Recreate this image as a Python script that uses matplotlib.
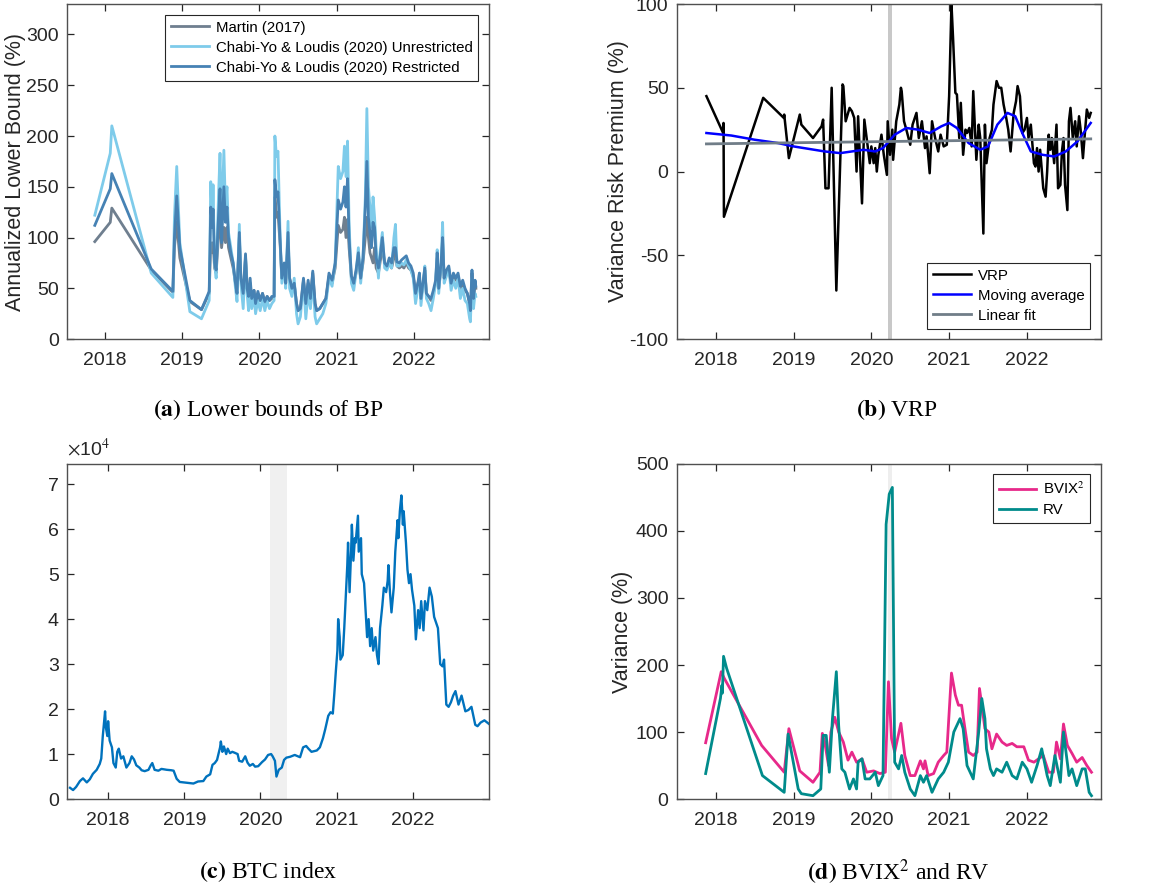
#!/usr/bin/env python3
"""Four-panel figure: bound estimates, VRP, BTC index and BVIX^2 vs RV."""

import matplotlib

matplotlib.use("Agg")
import matplotlib.pyplot as plt
from matplotlib.ticker import FuncFormatter

plt.rcParams["font.family"] = ["Liberation Sans", "DejaVu Sans"]
plt.rcParams["mathtext.fontset"] = "stix"
plt.rcParams["axes.unicode_minus"] = False

YEAR_TICKS = [2018, 2019, 2020, 2021, 2022]

# ---- (a) lower bounds of BP (%) ----
lb_dates = [
    2017.87, 2018.07, 2018.09, 2018.60, 2018.88, 2018.90, 2018.93, 2018.97, 2019.10, 2019.25,
    2019.35, 2019.37, 2019.39, 2019.40, 2019.42, 2019.44, 2019.47, 2019.49, 2019.51, 2019.54,
    2019.56, 2019.58, 2019.60, 2019.63, 2019.66, 2019.69, 2019.71, 2019.74, 2019.76, 2019.79,
    2019.82, 2019.84, 2019.86, 2019.88, 2019.90, 2019.93, 2019.95, 2019.98, 2020.01, 2020.04,
    2020.07, 2020.10, 2020.13, 2020.16, 2020.19, 2020.20, 2020.22, 2020.24, 2020.27, 2020.29,
    2020.32, 2020.34, 2020.37, 2020.39, 2020.42, 2020.45, 2020.48, 2020.50, 2020.53, 2020.57,
    2020.60, 2020.63, 2020.66, 2020.69, 2020.72, 2020.74, 2020.78, 2020.82, 2020.86, 2020.90,
    2020.94, 2020.98, 2021.02, 2021.05, 2021.08, 2021.10, 2021.12, 2021.14, 2021.16, 2021.19,
    2021.22, 2021.25, 2021.28, 2021.31, 2021.34, 2021.37, 2021.39, 2021.41, 2021.43, 2021.45,
    2021.47, 2021.49, 2021.51, 2021.54, 2021.56, 2021.59, 2021.62, 2021.65, 2021.68, 2021.71,
    2021.74, 2021.76, 2021.78, 2021.81, 2021.84, 2021.87, 2021.90, 2021.93, 2021.96, 2021.99,
    2022.02, 2022.05, 2022.07, 2022.09, 2022.12, 2022.14, 2022.16, 2022.19, 2022.22, 2022.25,
    2022.28, 2022.30, 2022.32, 2022.35, 2022.37, 2022.39, 2022.42, 2022.45, 2022.48, 2022.51,
    2022.54, 2022.57, 2022.60, 2022.63, 2022.66, 2022.69, 2022.72, 2022.73, 2022.75, 2022.77,
    2022.79, 2022.80,
]
lb_martin = [
    96, 115, 129, 68, 46, 90, 115, 80, 37, 29,
    45, 95, 85, 95, 70, 65, 100, 125, 90, 110,
    95, 110, 90, 80, 70, 55, 45, 100, 60, 45,
    80, 55, 40, 55, 40, 48, 35, 45, 38, 45,
    35, 42, 38, 40, 42, 140, 120, 125, 90, 60,
    70, 55, 95, 60, 50, 55, 35, 28, 30, 58,
    35, 55, 40, 65, 35, 28, 30, 35, 40, 62,
    55, 70, 112, 105, 108, 120, 100, 118, 90, 60,
    55, 65, 80, 60, 75, 100, 120, 100, 85, 80,
    75, 90, 70, 65, 75, 90, 75, 70, 75, 70,
    80, 85, 72, 70, 72, 70, 75, 70, 68, 62,
    45, 55, 60, 40, 55, 68, 45, 42, 38, 45,
    55, 80, 50, 70, 95, 60, 65, 68, 55, 62,
    58, 62, 50, 55, 48, 45, 35, 28, 65, 40,
    55, 50,
]
lb_unrestricted = [
    122, 183, 210, 65, 41, 120, 170, 95, 27, 20,
    38, 155, 115, 152, 75, 60, 140, 183, 110, 186,
    130, 150, 105, 90, 75, 50, 37, 113, 55, 30,
    82, 45, 28, 55, 30, 42, 25, 38, 28, 40,
    28, 38, 30, 35, 38, 200, 180, 185, 95, 55,
    72, 50, 116, 50, 42, 60, 25, 15, 22, 57,
    20, 45, 30, 60, 22, 15, 20, 25, 35, 60,
    52, 75, 170, 158, 165, 190, 160, 195, 115, 55,
    48, 65, 90, 55, 80, 140, 227, 150, 130, 110,
    140, 120, 90, 60, 85, 105, 70, 68, 75, 70,
    100, 113, 72, 72, 75, 73, 78, 72, 68, 60,
    35, 50, 65, 33, 55, 72, 40, 35, 28, 40,
    55, 88, 45, 75, 115, 55, 62, 70, 48, 58,
    50, 60, 40, 50, 38, 35, 20, 17, 60, 30,
    45, 42,
]
lb_restricted = [
    112, 148, 163, 69, 47, 100, 141, 90, 38, 29,
    47, 130, 110, 128, 75, 68, 120, 148, 95, 150,
    115, 130, 100, 85, 75, 55, 45, 105, 60, 45,
    84, 50, 42, 60, 40, 48, 35, 47, 38, 45,
    37, 42, 38, 42, 42, 157, 140, 145, 95, 60,
    75, 55, 105, 60, 50, 55, 35, 28, 30, 60,
    35, 58, 40, 67, 35, 28, 30, 35, 40, 65,
    58, 75, 137, 128, 135, 150, 130, 158, 100, 62,
    55, 68, 85, 60, 80, 130, 175, 120, 105, 90,
    115, 110, 80, 70, 80, 100, 75, 72, 80, 75,
    90, 90, 76, 75, 78, 80, 82, 75, 72, 65,
    45, 55, 65, 40, 58, 70, 45, 42, 40, 48,
    58, 85, 50, 75, 100, 60, 68, 72, 55, 65,
    60, 65, 52, 58, 50, 45, 35, 28, 68, 40,
    58, 52,
]

# ---- (b) variance risk premium (%) ----
vrp_dates = [
    2017.88, 2018.095, 2018.10, 2018.105, 2018.61, 2018.875, 2018.88, 2018.94, 2019.08, 2019.10,
    2019.25, 2019.36, 2019.38, 2019.41, 2019.45, 2019.49, 2019.55, 2019.63, 2019.64, 2019.67,
    2019.72, 2019.75, 2019.78, 2019.81, 2019.83, 2019.88, 2019.91, 2019.94, 2019.98, 2020.00,
    2020.03, 2020.05, 2020.07, 2020.09, 2020.13, 2020.16, 2020.20, 2020.21, 2020.24, 2020.27,
    2020.28, 2020.32, 2020.36, 2020.38, 2020.39, 2020.42, 2020.45, 2020.50, 2020.53, 2020.58,
    2020.61, 2020.65, 2020.69, 2020.71, 2020.75, 2020.78, 2020.82, 2020.86, 2020.89, 2020.93,
    2020.97, 2021.00, 2021.03, 2021.05, 2021.08, 2021.10, 2021.13, 2021.15, 2021.18, 2021.21,
    2021.23, 2021.26, 2021.29, 2021.31, 2021.35, 2021.38, 2021.40, 2021.44, 2021.46, 2021.48,
    2021.52, 2021.55, 2021.57, 2021.61, 2021.64, 2021.67, 2021.70, 2021.73, 2021.76, 2021.79,
    2021.83, 2021.86, 2021.88, 2021.91, 2021.94, 2021.97, 2022.00, 2022.02, 2022.05, 2022.09,
    2022.11, 2022.13, 2022.15, 2022.17, 2022.21, 2022.24, 2022.26, 2022.28, 2022.30, 2022.32,
    2022.35, 2022.38, 2022.40, 2022.43, 2022.45, 2022.47, 2022.49, 2022.52, 2022.54, 2022.56,
    2022.59, 2022.62, 2022.64, 2022.67, 2022.69, 2022.72, 2022.74, 2022.77, 2022.80, 2022.82,
]
vrp_values = [
    45, 23, 29, -27, 44, 32, 34, 8, 34, 28,
    20, 27, 31, -10, -10, 50, -71, 52, 51, 30,
    38, 36, 32, 0, 33, -19, 31, 20, 5, 15,
    5, 14, 0, 10, 22, 10, -2, 30, 10, 25,
    7, 30, 40, 50, 48, 30, 25, 16, 28, 35,
    20, 30, 14, 21, -1, 30, 20, 12, 22, 15,
    16, 45, 100, 80, 47, 46, 20, 41, 10, 25,
    23, 26, 15, 48, 7, 28, 20, -37, 28, 5,
    20, 25, 40, 54, 50, 50, 40, 33, 25, 12,
    35, 42, 51, 45, 23, 25, 32, 20, 28, 5,
    3, 14, 0, 13, -10, -15, 0, 22, 13, 20,
    5, 28, -10, -8, 12, 20, -8, -23, 30, 38,
    20, 30, 15, 33, 25, 8, 20, 37, 32, 35,
]
ma_dates = [
    2017.88, 2018.2, 2018.5, 2018.8, 2019.0, 2019.2, 2019.4, 2019.6, 2019.75, 2019.9,
    2020.05, 2020.15, 2020.3, 2020.45, 2020.6, 2020.75, 2020.9, 2021.0, 2021.1, 2021.25,
    2021.4, 2021.5, 2021.62, 2021.75, 2021.85, 2021.95, 2022.05, 2022.2, 2022.35, 2022.5,
    2022.65, 2022.82,
]
ma_values = [
    23, 21.5, 19, 17, 15, 13.5, 12, 11, 12, 13,
    12, 14, 22, 26, 25, 23, 27, 29, 26, 17,
    13, 15, 28, 35, 33, 22, 12, 10, 9, 12,
    18, 29,
]
fit_dates = [2017.88, 2022.82]
fit_values = [16.5, 19.5]

# ---- (c) BTC index ----
btc_dates = [
    2017.50, 2017.54, 2017.58, 2017.63, 2017.67, 2017.72, 2017.76, 2017.80, 2017.85, 2017.89,
    2017.91, 2017.93, 2017.96, 2017.97, 2017.99, 2018.00, 2018.02, 2018.05, 2018.07, 2018.10,
    2018.12, 2018.14, 2018.17, 2018.20, 2018.24, 2018.28, 2018.31, 2018.34, 2018.37, 2018.41,
    2018.44, 2018.48, 2018.53, 2018.56, 2018.58, 2018.61, 2018.66, 2018.70, 2018.77, 2018.83,
    2018.86, 2018.90, 2018.94, 2018.99, 2019.05, 2019.12, 2019.18, 2019.25, 2019.29, 2019.34,
    2019.37, 2019.40, 2019.43, 2019.47, 2019.48, 2019.50, 2019.52, 2019.55, 2019.57, 2019.60,
    2019.63, 2019.66, 2019.70, 2019.72, 2019.76, 2019.80, 2019.83, 2019.86, 2019.90, 2019.93,
    2019.97, 2020.02, 2020.06, 2020.10, 2020.14, 2020.16, 2020.19, 2020.21, 2020.24, 2020.28,
    2020.31, 2020.34, 2020.39, 2020.45, 2020.52, 2020.56, 2020.60, 2020.63, 2020.67, 2020.74,
    2020.78, 2020.82, 2020.85, 2020.89, 2020.92, 2020.95, 2020.97, 2020.99, 2021.01, 2021.02,
    2021.04, 2021.05, 2021.08, 2021.10, 2021.12, 2021.14, 2021.15, 2021.17, 2021.19, 2021.20,
    2021.22, 2021.24, 2021.25, 2021.28, 2021.29, 2021.32, 2021.33, 2021.36, 2021.38, 2021.40,
    2021.42, 2021.44, 2021.46, 2021.48, 2021.51, 2021.53, 2021.55, 2021.57, 2021.60, 2021.62,
    2021.65, 2021.67, 2021.68, 2021.70, 2021.72, 2021.75, 2021.77, 2021.80, 2021.81, 2021.83,
    2021.85, 2021.87, 2021.88, 2021.91, 2021.93, 2021.95, 2021.97, 2021.99, 2022.02, 2022.04,
    2022.07, 2022.09, 2022.11, 2022.14, 2022.16, 2022.19, 2022.22, 2022.25, 2022.28, 2022.30,
    2022.33, 2022.36, 2022.39, 2022.41, 2022.44, 2022.47, 2022.50, 2022.53, 2022.56, 2022.60,
    2022.64, 2022.69, 2022.73, 2022.77, 2022.82, 2022.85, 2022.89, 2022.94, 2023.00,
]
btc_price = [
    2500, 2000, 2700, 4000, 4600, 3700, 4400, 5600, 6500, 7800,
    9000, 14000, 19500, 16000, 14000, 17300, 13000, 11500, 8000, 7000,
    10500, 11200, 9000, 9500, 7000, 8000, 9500, 8800, 7500, 7000,
    6400, 6200, 6500, 7500, 8000, 6500, 6300, 6700, 6500, 6400,
    6300, 4500, 3800, 3700, 3600, 3450, 3900, 4000, 5000, 5500,
    7600, 8000, 8700, 11500, 12800, 10500, 11700, 10000, 11200, 10200,
    10500, 10300, 10000, 8500, 8300, 9500, 8100, 7400, 7800, 7200,
    7300, 8200, 8800, 9800, 10000, 9500, 8500, 5000, 6500, 7000,
    8700, 9200, 9400, 9800, 9300, 11500, 11800, 11200, 10500, 10800,
    11500, 13500, 15500, 18500, 19300, 19000, 23500, 28500, 33000, 40000,
    36000, 31000, 32000, 38000, 45000, 52000, 57000, 46000, 55000, 61000,
    53000, 58000, 57000, 63000, 55000, 58000, 50000, 48000, 42000, 36000,
    40000, 34000, 38000, 33000, 36000, 32000, 30000, 38000, 43000, 47000,
    46000, 48500, 52000, 46000, 41500, 47000, 55000, 62000, 58000, 64000,
    67500, 61000, 64000, 57000, 51000, 48000, 50000, 46500, 43000, 35500,
    42000, 38000, 44000, 37500, 44000, 42000, 47000, 45000, 40500, 39500,
    38000, 30000, 29500, 31000, 21000, 20500, 21500, 23000, 24000, 21000,
    23000, 19500, 19800, 20500, 16500, 16200, 17000, 17500, 16700,
]

# ---- (d) BVIX^2 and realized variance (%) ----
bvix_dates = [
    2017.87, 2018.07, 2018.11, 2018.59, 2018.88, 2018.94, 2019.08, 2019.25, 2019.34, 2019.37,
    2019.40, 2019.45, 2019.48, 2019.53, 2019.58, 2019.64, 2019.70, 2019.75, 2019.81, 2019.88,
    2019.94, 2020.03, 2020.11, 2020.18, 2020.22, 2020.26, 2020.30, 2020.38, 2020.43, 2020.50,
    2020.56, 2020.63, 2020.67, 2020.69, 2020.73, 2020.80, 2020.86, 2020.93, 2020.97, 2021.03,
    2021.08, 2021.12, 2021.16, 2021.21, 2021.25, 2021.31, 2021.36, 2021.39, 2021.42, 2021.46,
    2021.51, 2021.55, 2021.61, 2021.68, 2021.74, 2021.81, 2021.87, 2021.96, 2022.02, 2022.09,
    2022.15, 2022.21, 2022.28, 2022.34, 2022.38, 2022.43, 2022.47, 2022.52, 2022.58, 2022.64,
    2022.71, 2022.77, 2022.83,
]
bvix_values = [
    84, 190, 180, 80, 40, 105, 42, 25, 40, 98,
    85, 50, 100, 122, 100, 85, 58, 70, 55, 60,
    40, 42, 38, 40, 175, 90, 70, 113, 65, 35,
    35, 57, 45, 57, 35, 38, 55, 65, 70, 188,
    155, 140, 140, 100, 70, 65, 70, 165, 140, 105,
    100, 75, 97, 85, 80, 83, 78, 78, 58, 55,
    60, 65, 40, 40, 85, 60, 112, 80, 68, 55,
    62, 50, 40,
]
rv_dates = [
    2017.87, 2018.06, 2018.08, 2018.085, 2018.10, 2018.14, 2018.60, 2018.88, 2018.93, 2019.06,
    2019.10, 2019.25, 2019.35, 2019.38, 2019.42, 2019.46, 2019.50, 2019.55, 2019.58, 2019.62,
    2019.66, 2019.72, 2019.77, 2019.81, 2019.83, 2019.88, 2019.92, 2019.98, 2020.05, 2020.09,
    2020.15, 2020.19, 2020.23, 2020.27, 2020.30, 2020.35, 2020.39, 2020.43, 2020.50, 2020.56,
    2020.63, 2020.67, 2020.71, 2020.78, 2020.86, 2020.93, 2020.99, 2021.06, 2021.10, 2021.14,
    2021.18, 2021.23, 2021.31, 2021.38, 2021.42, 2021.46, 2021.48, 2021.53, 2021.57, 2021.61,
    2021.68, 2021.74, 2021.81, 2021.87, 2021.94, 2022.00, 2022.06, 2022.13, 2022.19, 2022.26,
    2022.30, 2022.36, 2022.43, 2022.47, 2022.54, 2022.58, 2022.64, 2022.71, 2022.75, 2022.80,
    2022.83,
]
rv_values = [
    38, 150, 170, 158, 213, 195, 35, 10, 97, 15,
    8, 5, 15, 95, 95, 40, 120, 190, 110, 45,
    40, 15, 30, 15, 55, 60, 30, 30, 40, 20,
    35, 410, 455, 465, 55, 45, 65, 40, 15, 5,
    35, 25, 35, 10, 30, 40, 55, 100, 110, 120,
    105, 50, 30, 100, 150, 120, 75, 45, 35, 45,
    40, 55, 35, 30, 55, 45, 25, 50, 75, 35,
    20, 65, 25, 100, 35, 45, 20, 45, 45, 10,
    5,
]

# shaded crisis window
covid_wide = (2020.13, 2020.35)
covid_narrow = (2020.21, 2020.265)


def style_axes(ax, xlim, ylim, yticks):
    ax.set_xlim(*xlim)
    ax.set_ylim(*ylim)
    ax.set_xticks(YEAR_TICKS)
    ax.set_xticklabels([str(y) for y in YEAR_TICKS])
    ax.set_yticks(yticks)
    ax.tick_params(direction="in", top=True, right=True, length=5, width=0.9,
                   labelsize=14, colors="#262626", pad=6)
    ax.tick_params(axis="x", pad=9)
    for spine in ax.spines.values():
        spine.set_color("#505050")
        spine.set_linewidth(1.0)


def set_ylabel(ax, text, xpos):
    # xpos is where the right-hand side of the rotated label sits, in axes units
    ax.set_ylabel(text, fontsize=15.5, color="#262626")
    ax.yaxis.set_label_coords(xpos, 0.5)


def add_legend(ax, loc, **kw):
    leg = ax.legend(loc=loc, fontsize=10.8, frameon=True, fancybox=False, framealpha=1,
                    edgecolor="#262626", handlelength=2.5, borderpad=0.4,
                    labelspacing=0.4, handletextpad=0.45, borderaxespad=0.7, **kw)
    leg.get_frame().set_linewidth(0.8)
    return leg


def main() -> int:
    fig = plt.figure(figsize=(11.67, 8.90), dpi=100)
    ax_a = fig.add_axes([0.0574, 0.619, 0.3616, 0.3765])
    ax_b = fig.add_axes([0.580, 0.619, 0.3633, 0.3765])
    ax_c = fig.add_axes([0.0574, 0.1022, 0.3616, 0.3765])
    ax_d = fig.add_axes([0.580, 0.1022, 0.3633, 0.3765])

    # (a)
    ax_a.plot(lb_dates, lb_martin, color="#6f7f8f", lw=2.0, label="Martin (2017)")
    ax_a.plot(lb_dates, lb_unrestricted, color="#7ecbea", lw=2.0,
              label="Chabi-Yo & Loudis (2020) Unrestricted")
    ax_a.plot(lb_dates, lb_restricted, color="#4682b4", lw=2.0,
              label="Chabi-Yo & Loudis (2020) Restricted")
    style_axes(ax_a, (2017.51, 2022.97), (0, 330), range(0, 301, 50))
    set_ylabel(ax_a, "Annualized Lower Bound (%)", -0.098)
    add_legend(ax_a, "upper right")

    # (b)
    ax_b.axvspan(*covid_narrow, color="#c8c8c8", lw=0, zorder=0)
    ax_b.plot(vrp_dates, vrp_values, color="black", lw=1.8, label="VRP")
    ax_b.plot(ma_dates, ma_values, color="#0000ff", lw=1.8, label="Moving average")
    ax_b.plot(fit_dates, fit_values, color="#707d88", lw=2.0, label="Linear fit")
    style_axes(ax_b, (2017.5, 2022.95), (-100, 100), range(-100, 101, 50))
    set_ylabel(ax_b, "Variance Risk Premium (%)", -0.114)
    add_legend(ax_b, "lower right")

    # (c)
    ax_c.axvspan(*covid_wide, color="#f0f0f0", lw=0, zorder=0)
    ax_c.plot(btc_dates, btc_price, color="#0072bd", lw=1.7)
    style_axes(ax_c, (2017.46, 2023.0), (0, 74500), range(0, 70001, 10000))
    ax_c.yaxis.set_major_formatter(FuncFormatter(lambda v, _: f"{v / 1e4:g}"))
    ax_c.text(0.0, 1.012, r"$\times$10$^{4}$", transform=ax_c.transAxes, fontsize=14,
              color="#262626", ha="left", va="bottom")

    # (d)
    ax_d.axvspan(*covid_narrow, color="#eeeeee", lw=0, zorder=0)
    ax_d.plot(bvix_dates, bvix_values, color="#e7298a", lw=2.0, label=r"BVIX$^2$")
    ax_d.plot(rv_dates, rv_values, color="#008b8b", lw=2.0, label="RV")
    style_axes(ax_d, (2017.5, 2022.95), (0, 500), range(0, 501, 100))
    set_ylabel(ax_d, "Variance (%)", -0.104)
    add_legend(ax_d, "upper right")

    # sub-captions
    cap = dict(fontsize=17, family=["Liberation Serif", "DejaVu Serif"], ha="center", va="center")
    fig.text(268 / 1167, 1 - 410 / 890, r"$\mathbf{(a)}$ Lower bounds of BP", **cap)
    fig.text(897 / 1167, 1 - 410 / 890, r"$\mathbf{(b)}$ VRP", **cap)
    fig.text(268 / 1167, 1 - 872 / 890, r"$\mathbf{(c)}$ BTC index", **cap)
    fig.text(898 / 1167, 1 - 872 / 890, r"$\mathbf{(d)}$ BVIX$^{2}$ and RV", **cap)

    fig.savefig("out.png", dpi=100, facecolor="white")
    plt.close(fig)
    return 0


if __name__ == "__main__":
    raise SystemExit(main())
